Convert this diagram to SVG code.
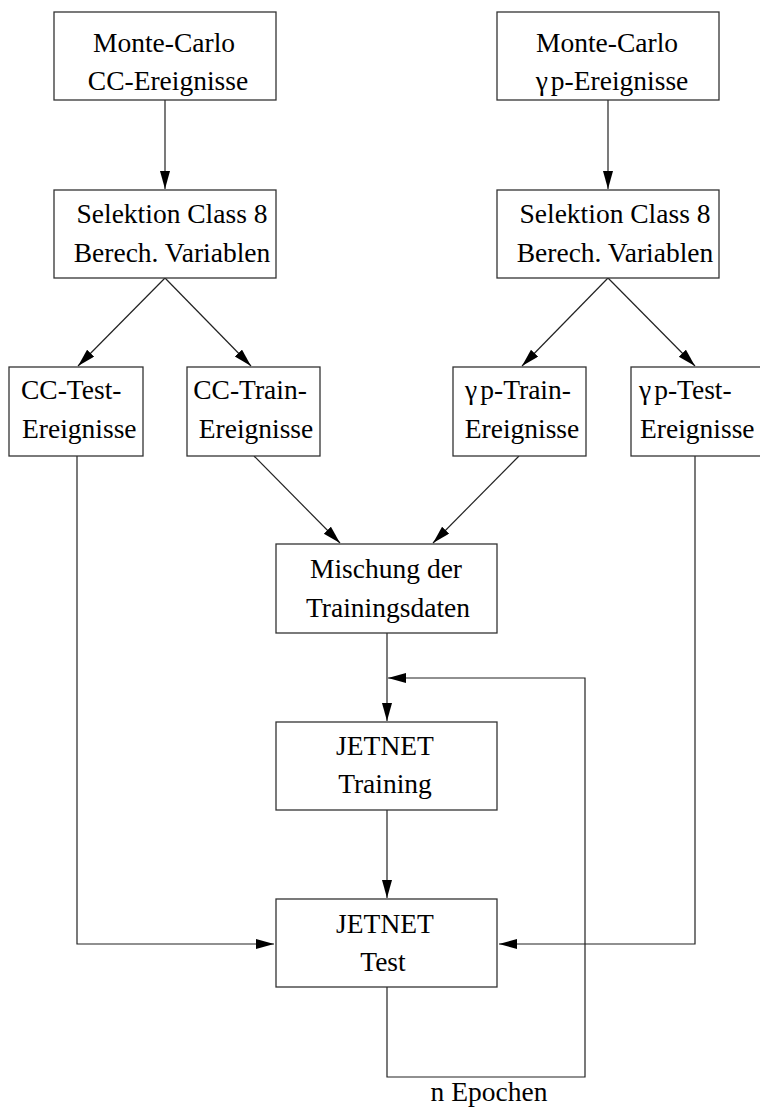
<svg xmlns="http://www.w3.org/2000/svg" width="760" height="1108" viewBox="0 0 760 1108">
<style>
.box{fill:#fff;stroke:#333;stroke-width:1.3}
.t{font-family:"Liberation Serif","Times New Roman",serif;font-size:27.5px;fill:#000}
.m{text-anchor:middle}
.c{fill:none;stroke:#222;stroke-width:1.2}
</style>
<defs>
<marker id="ah" markerUnits="userSpaceOnUse" markerWidth="19" markerHeight="11" refX="18" refY="5" orient="auto">
<path d="M0,0 L18,5 L0,10 z" fill="#000"/>
</marker>
</defs>
<rect width="760" height="1108" fill="#fff"/>
<g id="connectors">
<line class="c" x1="165" y1="100" x2="165" y2="189" marker-end="url(#ah)"/>
<line class="c" x1="608" y1="100" x2="608" y2="189" marker-end="url(#ah)"/>
<line class="c" x1="165" y1="278" x2="78" y2="366" marker-end="url(#ah)"/>
<line class="c" x1="165" y1="278" x2="251" y2="366" marker-end="url(#ah)"/>
<line class="c" x1="608" y1="278" x2="522" y2="366" marker-end="url(#ah)"/>
<line class="c" x1="608" y1="278" x2="695" y2="366" marker-end="url(#ah)"/>
<line class="c" x1="254" y1="456" x2="340" y2="543" marker-end="url(#ah)"/>
<line class="c" x1="519" y1="456" x2="433" y2="543" marker-end="url(#ah)"/>
<line class="c" x1="387" y1="633" x2="387" y2="721" marker-end="url(#ah)"/>
<line class="c" x1="387" y1="810" x2="387" y2="898" marker-end="url(#ah)"/>
<polyline class="c" points="77,456 77,944 274,944" marker-end="url(#ah)"/>
<polyline class="c" points="695,456 695,944 499,944" marker-end="url(#ah)"/>
<polyline class="c" points="387,987 387,1077 585,1077 585,678 388,678" marker-end="url(#ah)"/>
<text class="t m" x="489" y="1101">n Epochen</text>
</g>
<g id="mc-cc">
<rect class="box" x="54" y="12" width="222" height="88"/>
<text class="t m" x="164" y="52">Monte-Carlo</text>
<text class="t m" x="168" y="90">CC-Ereignisse</text>
</g>
<g id="sel-cc">
<rect class="box" x="54" y="190" width="222" height="88"/>
<text class="t m" x="172" y="223">Selektion Class 8</text>
<text class="t m" x="172" y="262">Berech. Variablen</text>
</g>
<g id="mc-gp">
<rect class="box" x="497" y="12" width="222" height="88"/>
<text class="t m" x="607" y="52">Monte-Carlo</text>
<text class="t m" x="612" y="90">γ<tspan dx="3">p-Ereignisse</tspan></text>
</g>
<g id="sel-gp">
<rect class="box" x="497" y="190" width="222" height="88"/>
<text class="t m" x="615" y="223">Selektion Class 8</text>
<text class="t m" x="615" y="262">Berech. Variablen</text>
</g>
<g id="cc-test">
<rect class="box" x="9" y="367" width="134" height="89"/>
<text class="t" x="21" y="399">CC-Test-</text>
<text class="t" x="22" y="438">Ereignisse</text>
</g>
<g id="cc-train">
<rect class="box" x="187" y="367" width="133" height="89"/>
<text class="t m" x="250" y="399">CC-Train-</text>
<text class="t m" x="256" y="438">Ereignisse</text>
</g>
<g id="gp-train">
<rect class="box" x="453" y="367" width="133" height="89"/>
<text class="t m" x="518" y="399">γ<tspan dx="3">p-Train-</tspan></text>
<text class="t m" x="522" y="438">Ereignisse</text>
</g>
<g id="gp-test">
<rect class="box" x="631" y="367" width="134" height="89"/>
<text class="t" x="639" y="399">γ<tspan dx="3">p-Test-</tspan></text>
<text class="t" x="640" y="438">Ereignisse</text>
</g>
<g id="mischung">
<rect class="box" x="276" y="544" width="221" height="89"/>
<text class="t m" x="386" y="578">Mischung der</text>
<text class="t m" x="388" y="617">Trainingsdaten</text>
</g>
<g id="jetnet-training">
<rect class="box" x="276" y="722" width="221" height="88"/>
<text class="t m" x="385" y="755">JETNET</text>
<text class="t m" x="385" y="793">Training</text>
</g>
<g id="jetnet-test">
<rect class="box" x="276" y="899" width="221" height="88"/>
<text class="t m" x="385" y="933">JETNET</text>
<text class="t m" x="383" y="971">Test</text>
</g>
</svg>
